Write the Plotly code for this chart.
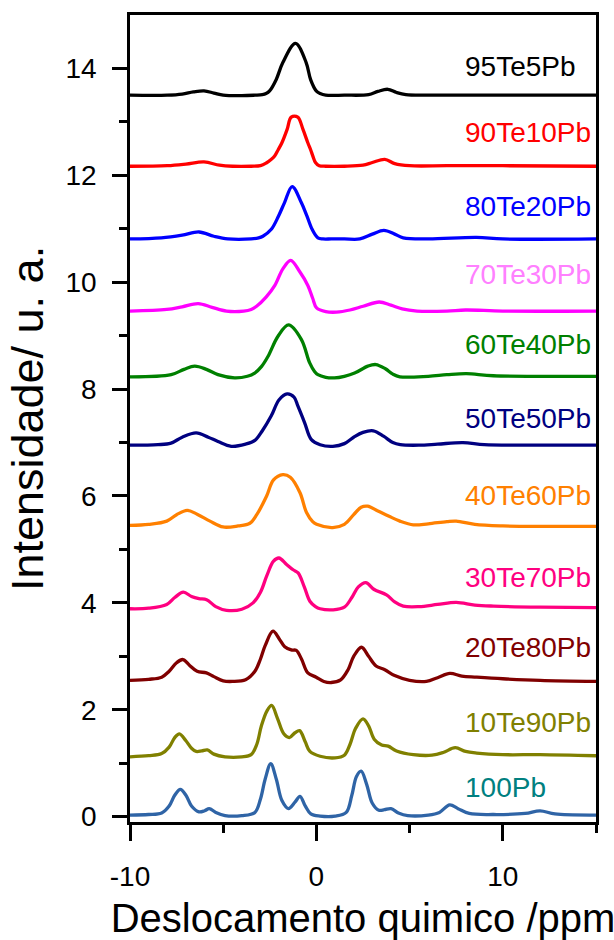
import plotly.graph_objects as go

# 207Pb NMR spectra of the xTe(100-x)Pb series, stacked with vertical offsets
labels = ["95Te5Pb", "90Te10Pb", "80Te20Pb", "70Te30Pb", "60Te40Pb", "50Te50Pb",
          "40Te60Pb", "30Te70Pb", "20Te80Pb", "10Te90Pb", "100Pb"]
line_colors = ["#000000", "#FF0000", "#0000FF", "#FF00FF", "#008000", "#000080",
               "#FF8000", "#FF0080", "#800000", "#808000", "#2F64A6"]
label_colors = ["#000000", "#FF0000", "#0000FF", "#FF80FF", "#008000", "#000080",
                "#FF8000", "#FF0080", "#800000", "#808000", "#008080"]
label_y = [14.03, 12.81, 11.41, 10.14, 8.83, 7.45, 6.01, 4.47, 3.16, 1.76, 0.55]

x_95te5pb = [-10, -8, -7.2, -6.6, -6.03, -5.5, -5.0, -4.0, -3.3, -2.9, -2.7, -2.51, -2.16, -1.8, -1.12,
             -0.55, -0.31, -0.01, 0.2, 0.5, 1.5, 2.8, 3.3, 3.83, 4.3, 4.8, 6, 10, 15]
y_95te5pb = [13.50, 13.50, 13.52, 13.56, 13.58, 13.54, 13.50, 13.49, 13.50, 13.51, 13.53, 13.58, 13.79, 14.11, 14.47,
             14.11, 13.79, 13.58, 13.53, 13.50, 13.50, 13.51, 13.57, 13.61, 13.55, 13.51, 13.50, 13.50, 13.50]

x_90te10pb = [-10, -8, -7, -6.03, -5.2, -4.5, -3.5, -3.0, -2.69, -2.45, -2.24, -2.05, -1.85, -1.57, -1.35,
              -1.0, -0.72, -0.46, -0.3, -0.19, -0.05, 0.15, 0.5, 1.5, 2.5, 3.0, 3.67, 4.2, 5, 7, 10, 15]
y_90te10pb = [12.17, 12.18, 12.21, 12.25, 12.19, 12.17, 12.17, 12.18, 12.23, 12.29, 12.36, 12.48, 12.61, 12.86, 13.09,
              13.09, 12.86, 12.61, 12.47, 12.36, 12.24, 12.18, 12.17, 12.17, 12.19, 12.24, 12.30, 12.22, 12.18, 12.18, 12.18, 12.17]

x_80te20pb = [-10, -8.32, -7.2, -6.3, -5.5, -4.75, -3.5, -3.1, -2.87, -2.42, -2.03, -1.71, -1.30, -0.81,
              -0.51, -0.23, 0.08, 0.35, 0.8, 1.5, 2.33, 3.0, 3.62, 4.2, 4.66, 6, 8.59, 10, 15]
y_80te20pb = [10.81, 10.83, 10.88, 10.94, 10.86, 10.81, 10.81, 10.83, 10.86, 10.99, 11.24, 11.49, 11.79, 11.49,
              11.24, 10.99, 10.83, 10.81, 10.81, 10.81, 10.81, 10.90, 10.97, 10.90, 10.83, 10.81, 10.84, 10.81, 10.81]

x_70te30pb = [-10, -8.03, -7.2, -6.34, -5.6, -4.82, -3.9, -3.5, -3.21, -2.7, -2.23, -1.8, -1.38, -0.9,
              -0.46, -0.2, 0.01, 0.5, 1.08, 1.8, 2.51, 3.37, 4.0, 4.6, 5.4, 7, 8, 10, 15]
y_70te30pb = [9.46, 9.49, 9.54, 9.60, 9.53, 9.46, 9.46, 9.49, 9.55, 9.72, 9.94, 10.25, 10.41, 10.20,
              9.94, 9.70, 9.52, 9.45, 9.44, 9.48, 9.55, 9.63, 9.57, 9.50, 9.46, 9.46, 9.48, 9.46, 9.46]

x_60te40pb = [-10, -7.79, -7.1, -6.53, -5.9, -5.28, -4.39, -3.7, -3.31, -2.95, -2.60, -2.06, -1.49, -0.81,
              -0.36, -0.1, 0.08, 0.5, 0.97, 1.5, 2.05, 2.76, 3.19, 3.7, 4.1, 4.48, 6, 7, 8.05, 9.5, 15]
y_60te40pb = [8.23, 8.27, 8.37, 8.43, 8.37, 8.27, 8.21, 8.24, 8.30, 8.42, 8.61, 8.99, 9.20, 8.93,
              8.49, 8.33, 8.27, 8.22, 8.21, 8.24, 8.30, 8.43, 8.46, 8.38, 8.28, 8.23, 8.24, 8.27, 8.29, 8.25, 8.24]

x_50te50pb = [-10, -8.5, -7.8, -7.2, -6.45, -5.8, -5.28, -4.57, -3.8, -3.3, -2.9, -2.42, -2.0, -1.57,
              -1.2, -0.99, -0.63, -0.28, 0.2, 0.88, 1.5, 2.0, 2.5, 3.05, 3.6, 4.1, 4.5, 5.5, 6.5,
              7.86, 9, 11, 15]
y_50te50pb = [6.95, 6.96, 6.99, 7.10, 7.18, 7.10, 7.02, 6.93, 6.97, 7.04, 7.22, 7.50, 7.80, 7.91,
              7.85, 7.68, 7.37, 7.06, 6.96, 6.93, 6.98, 7.10, 7.19, 7.22, 7.12, 7.00, 6.96, 6.95, 6.97,
              7.00, 6.96, 6.95, 6.95]

x_40te60pb = [-10, -9, -8.03, -7.5, -6.93, -6.4, -5.71, -5.01, -4.2, -3.57, -3.2, -2.67, -2.3, -1.8,
              -1.4, -0.88, -0.53, -0.2, 0.01, 0.88, 1.5, 2.0, 2.4, 2.75, 3.3, 3.9, 4.48, 5.2, 6.0, 7.0,
              7.5, 8.5, 10, 12, 15]
y_40te60pb = [5.45, 5.47, 5.53, 5.65, 5.73, 5.66, 5.53, 5.42, 5.44, 5.49, 5.65, 6.00, 6.30, 6.40,
              6.35, 6.06, 5.69, 5.52, 5.47, 5.41, 5.47, 5.65, 5.79, 5.81, 5.72, 5.62, 5.53, 5.46, 5.48, 5.52,
              5.53, 5.47, 5.44, 5.43, 5.43]

x_30te70pb = [-10, -9, -8.03, -7.6, -7.14, -6.7, -6.3, -5.89, -5.4, -4.82, -4.0, -3.4, -3.0, -2.67,
              -2.3, -2.01, -1.6, -1.25, -0.98, -0.65, -0.35, -0.05, 0.2, 0.9, 1.5, 1.9, 2.25, 2.65, 3.1,
              3.76, 4.2, 4.66, 5.5, 6.5, 7.5, 8.5, 9.5, 12, 15]
y_30te70pb = [3.89, 3.90, 3.97, 4.10, 4.20, 4.12, 4.08, 4.06, 3.93, 3.86, 3.88, 4.00, 4.20, 4.50,
              4.78, 4.84, 4.72, 4.62, 4.56, 4.30, 4.03, 3.93, 3.89, 3.87, 3.92, 4.10, 4.30, 4.38, 4.25,
              4.15, 4.02, 3.94, 3.93, 3.97, 4.01, 3.96, 3.94, 3.92, 3.91]

x_20te80pb = [-10, -9, -8.3, -7.9, -7.5, -7.16, -6.8, -6.4, -5.9, -5.5, -5.0, -4.5, -3.8, -3.3,
              -3.0, -2.75, -2.33, -2.0, -1.7, -1.35, -1.08, -0.8, -0.46, -0.01, 0.4, 0.8, 1.3,
              1.7, 2.0, 2.42, 2.8, 3.2, 3.67, 4.2, 5.0, 5.9, 6.5, 7.16, 7.8, 8.6, 10, 12, 15]
y_20te80pb = [2.55, 2.57, 2.61, 2.72, 2.88, 2.94, 2.83, 2.72, 2.69, 2.62, 2.54, 2.53, 2.56, 2.72,
              2.95, 3.20, 3.47, 3.33, 3.18, 3.12, 3.11, 2.95, 2.69, 2.61, 2.53, 2.51, 2.56,
              2.75, 3.00, 3.17, 3.00, 2.82, 2.75, 2.64, 2.55, 2.53, 2.60, 2.68, 2.63, 2.61, 2.58, 2.55, 2.53]

x_10te90pb = [-10, -9, -8.3, -7.9, -7.6, -7.35, -7.0, -6.7, -6.45, -6.15, -5.85, -5.5, -4.9, -4.0,
              -3.5, -3.2, -2.95, -2.65, -2.4, -2.1, -1.75, -1.45, -1.15, -0.9, -0.6, -0.35, 0.2,
              1.0, 1.5, 1.8, 2.1, 2.5, 2.8, 3.1, 3.5, 3.85, 4.3, 5.2, 6.2, 6.8, 7.45, 8.0, 8.6,
              10, 12, 15]
y_10te90pb = [1.12, 1.14, 1.18, 1.30, 1.48, 1.55, 1.42, 1.28, 1.22, 1.23, 1.25, 1.17, 1.12, 1.12,
              1.16, 1.35, 1.70, 1.98, 2.08, 1.85, 1.55, 1.48, 1.57, 1.61, 1.40, 1.22, 1.13,
              1.10, 1.15, 1.35, 1.65, 1.83, 1.70, 1.45, 1.34, 1.32, 1.23, 1.16, 1.15, 1.20, 1.29, 1.22, 1.19,
              1.16, 1.16, 1.14]

x_100pb = [-10, -9, -8.3, -7.9, -7.6, -7.3, -7.0, -6.7, -6.3, -6.0, -5.75, -5.4, -4.9, -4.0,
           -3.3, -3.0, -2.75, -2.45, -2.15, -1.85, -1.5, -1.15, -0.88, -0.6, -0.3, 0.2, 1.0,
           1.6, 1.9, 2.15, 2.4, 2.7, 3.0, 3.35, 3.65, 4.0, 4.4, 4.9, 6.0, 6.6, 7.15, 7.6, 8.2,
           9.5, 11.2, 12.0, 12.8, 15]
y_100pb = [0.03, 0.04, 0.07, 0.20, 0.40, 0.51, 0.40, 0.20, 0.09, 0.11, 0.15, 0.08, 0.02, 0.02,
           0.08, 0.33, 0.70, 0.99, 0.70, 0.30, 0.15, 0.27, 0.38, 0.20, 0.05, 0.01, 0.01,
           0.08, 0.40, 0.75, 0.85, 0.60, 0.25, 0.12, 0.13, 0.15, 0.07, 0.02, 0.03, 0.08, 0.22, 0.15, 0.06,
           0.04, 0.06, 0.11, 0.05, 0.03]

spectra = [
    (x_95te5pb, y_95te5pb), (x_90te10pb, y_90te10pb), (x_80te20pb, y_80te20pb),
    (x_70te30pb, y_70te30pb), (x_60te40pb, y_60te40pb), (x_50te50pb, y_50te50pb),
    (x_40te60pb, y_40te60pb), (x_30te70pb, y_30te70pb), (x_20te80pb, y_20te80pb),
    (x_10te90pb, y_10te90pb), (x_100pb, y_100pb),
]

x_ticks = [-10, 0, 10]
x_tick_text = ["-10", "0", "10"]
y_ticks = [0, 2, 4, 6, 8, 10, 12, 14]
label_x = 7.85

FONT = "Arial, Liberation Sans, sans-serif"

fig = go.Figure()
for (xs, ys), name, col in zip(spectra, labels, line_colors):
    fig.add_trace(go.Scatter(x=xs, y=ys, mode="lines", name=name,
                             line=dict(color=col, width=3.3, shape="spline", smoothing=1.0),
                             showlegend=False))

for name, col, yy in zip(labels, label_colors, label_y):
    fig.add_annotation(x=label_x, y=yy, text=name, showarrow=False,
                       xanchor="left", yanchor="middle",
                       font=dict(family=FONT, size=28, color=col))

fig.update_layout(
    width=614, height=940,
    margin=dict(l=130, r=18, t=15, b=118),
    paper_bgcolor="white", plot_bgcolor="white",
    font=dict(family=FONT, color="black"),
)
fig.update_xaxes(
    range=[-10, 15], tickvals=x_ticks, ticktext=x_tick_text, ticks="outside", ticklen=16,
    tickwidth=2.5, tickcolor="black", showline=True, linecolor="black", linewidth=2.5, mirror=True,
    showgrid=False, zeroline=False, tickfont=dict(size=28, family=FONT), ticklabelstandoff=12,
    automargin=False,
    minor=dict(tickvals=[-5, 5, 15], ticks="outside", ticklen=8, tickwidth=2.5, tickcolor="black"),
    title=dict(text="Deslocamento quimico /ppm", font=dict(size=40, family=FONT), standoff=14),
)
fig.update_yaxes(
    range=[-0.1, 15.0], tickvals=y_ticks, ticks="outside", ticklen=15, tickwidth=2.5,
    tickcolor="black", showline=True, linecolor="black", linewidth=2.5, mirror=True,
    showgrid=False, zeroline=False, tickfont=dict(size=28, family=FONT), automargin=False,
    minor=dict(tickvals=[1, 3, 5, 7, 9, 11, 13], ticks="outside", ticklen=8, tickwidth=2.5,
               tickcolor="black"),
    ticklabelstandoff=10,
    title=dict(text="Intensidade/ u. a.", font=dict(size=45, family=FONT), standoff=8),
)

fig.write_html("out.html")
